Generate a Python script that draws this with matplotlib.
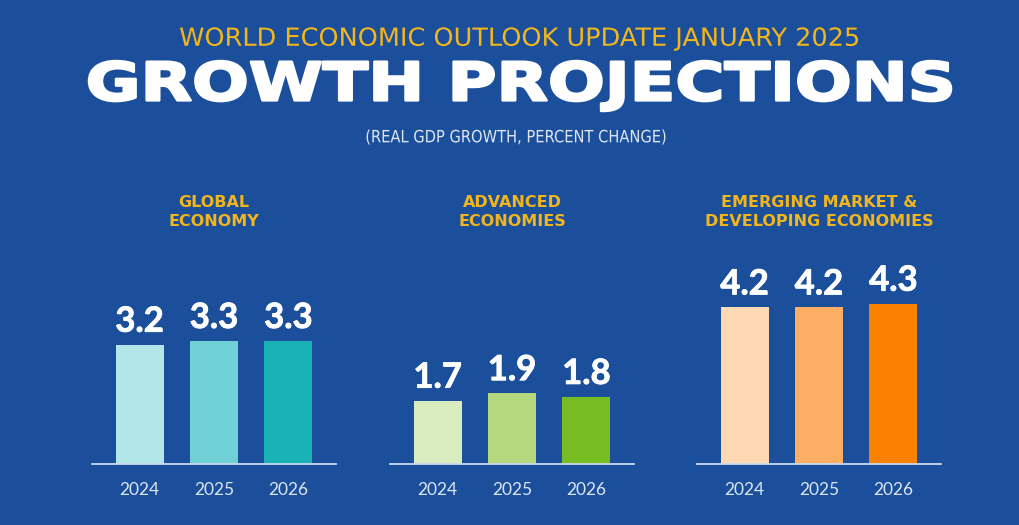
import matplotlib.pyplot as plt
import matplotlib.transforms as mtransforms
import matplotlib.patheffects as pe
from matplotlib.textpath import TextPath
from matplotlib.patches import PathPatch
from matplotlib.font_manager import FontProperties

# data
years = ["2024", "2025", "2026"]
global_vals = [3.2, 3.3, 3.3]
advanced_vals = [1.7, 1.9, 1.8]
emerging_vals = [4.2, 4.2, 4.3]

panel_titles = ["GLOBAL\nECONOMY", "ADVANCED\nECONOMIES", "EMERGING MARKET &\nDEVELOPING ECONOMIES"]
global_colors = ["#b3e6e9", "#6fd1d6", "#18b1b6"]
advanced_colors = ["#d9ecbf", "#b5d87f", "#79bd25"]
emerging_colors = ["#fed9b4", "#fdae62", "#fb8200"]

BG = "#1b4f9b"
GOLD = "#f2b61c"
PALE = "#dce6f3"

W, H = 1020, 525
fig = plt.figure(figsize=(W / 100, H / 100), dpi=100, facecolor=BG)


def fitted_text(s, cx, cy, width, size, color, prop, stroke=0):
    # text drawn as a path, squeezed/stretched to a given pixel width
    tp = TextPath((0, 0), s, size=size, prop=prop)
    bb = tp.get_extents()
    tr = (mtransforms.Affine2D()
          .translate(-(bb.x0 + bb.x1) / 2, -(bb.y0 + bb.y1) / 2)
          .scale(width / bb.width, 1)
          .translate(cx, H - cy))
    fig.add_artist(PathPatch(tp, transform=tr, facecolor=color, edgecolor=color,
                             linewidth=stroke, joinstyle="round"))


# header texts
fitted_text("WORLD ECONOMIC OUTLOOK UPDATE JANUARY 2025", 519, 39, 678, 25, GOLD,
            FontProperties(family="DejaVu Sans"))
fitted_text("GROWTH PROJECTIONS", 520, 86, 862, 53, "white",
            FontProperties(family="DejaVu Sans", weight="bold"), stroke=1.8)
fitted_text("(REAL GDP GROWTH, PERCENT CHANGE)", 516, 137, 299, 17, PALE,
            FontProperties(family="DejaVu Sans"))

panels = [
    (92, global_vals, global_colors, panel_titles[0]),
    (390, advanced_vals, advanced_colors, panel_titles[1]),
    (697, emerging_vals, emerging_colors, panel_titles[2]),
]

axis_w = 244
base_y = 464
top_y = 277.5
for left, vals, cols, title in panels:
    ax = fig.add_axes([left / W, 1 - base_y / H, axis_w / W, (base_y - top_y) / H])
    ax.set_facecolor("none")
    x = range(len(vals))
    bars = ax.bar(x, vals, width=0.645, color=cols)
    for b, v in zip(bars, vals):
        ax.annotate(f"{v:.1f}", (b.get_x() + b.get_width() / 2, v),
                    xytext=(0, 5), textcoords="offset points",
                    ha="center", va="bottom", color="white",
                    fontsize=25, fontweight="bold", family=["Lato", "DejaVu Sans"],
                    path_effects=[pe.withStroke(linewidth=0.6, foreground="white")])
    ax.set_xlim(-0.64, 2.64)
    ax.set_ylim(0, 5)
    ax.set_xticks(list(x))
    ax.set_xticklabels(years, color=PALE, fontsize=12.5, family=["Lato", "DejaVu Sans"])
    ax.tick_params(axis="x", length=0, pad=13)
    ax.set_yticks([])
    for s in ["top", "left", "right"]:
        ax.spines[s].set_visible(False)
    ax.spines["bottom"].set_color("#c9d9ee")
    ax.spines["bottom"].set_linewidth(1.3)
    fig.text((left + axis_w / 2) / W, 1 - 212 / H, title, ha="center", va="center",
             color=GOLD, fontsize=11.5, fontweight="bold", linespacing=1.3,
             family=["DejaVu Sans"])

fig.savefig("out.png", dpi=100, facecolor=BG)
